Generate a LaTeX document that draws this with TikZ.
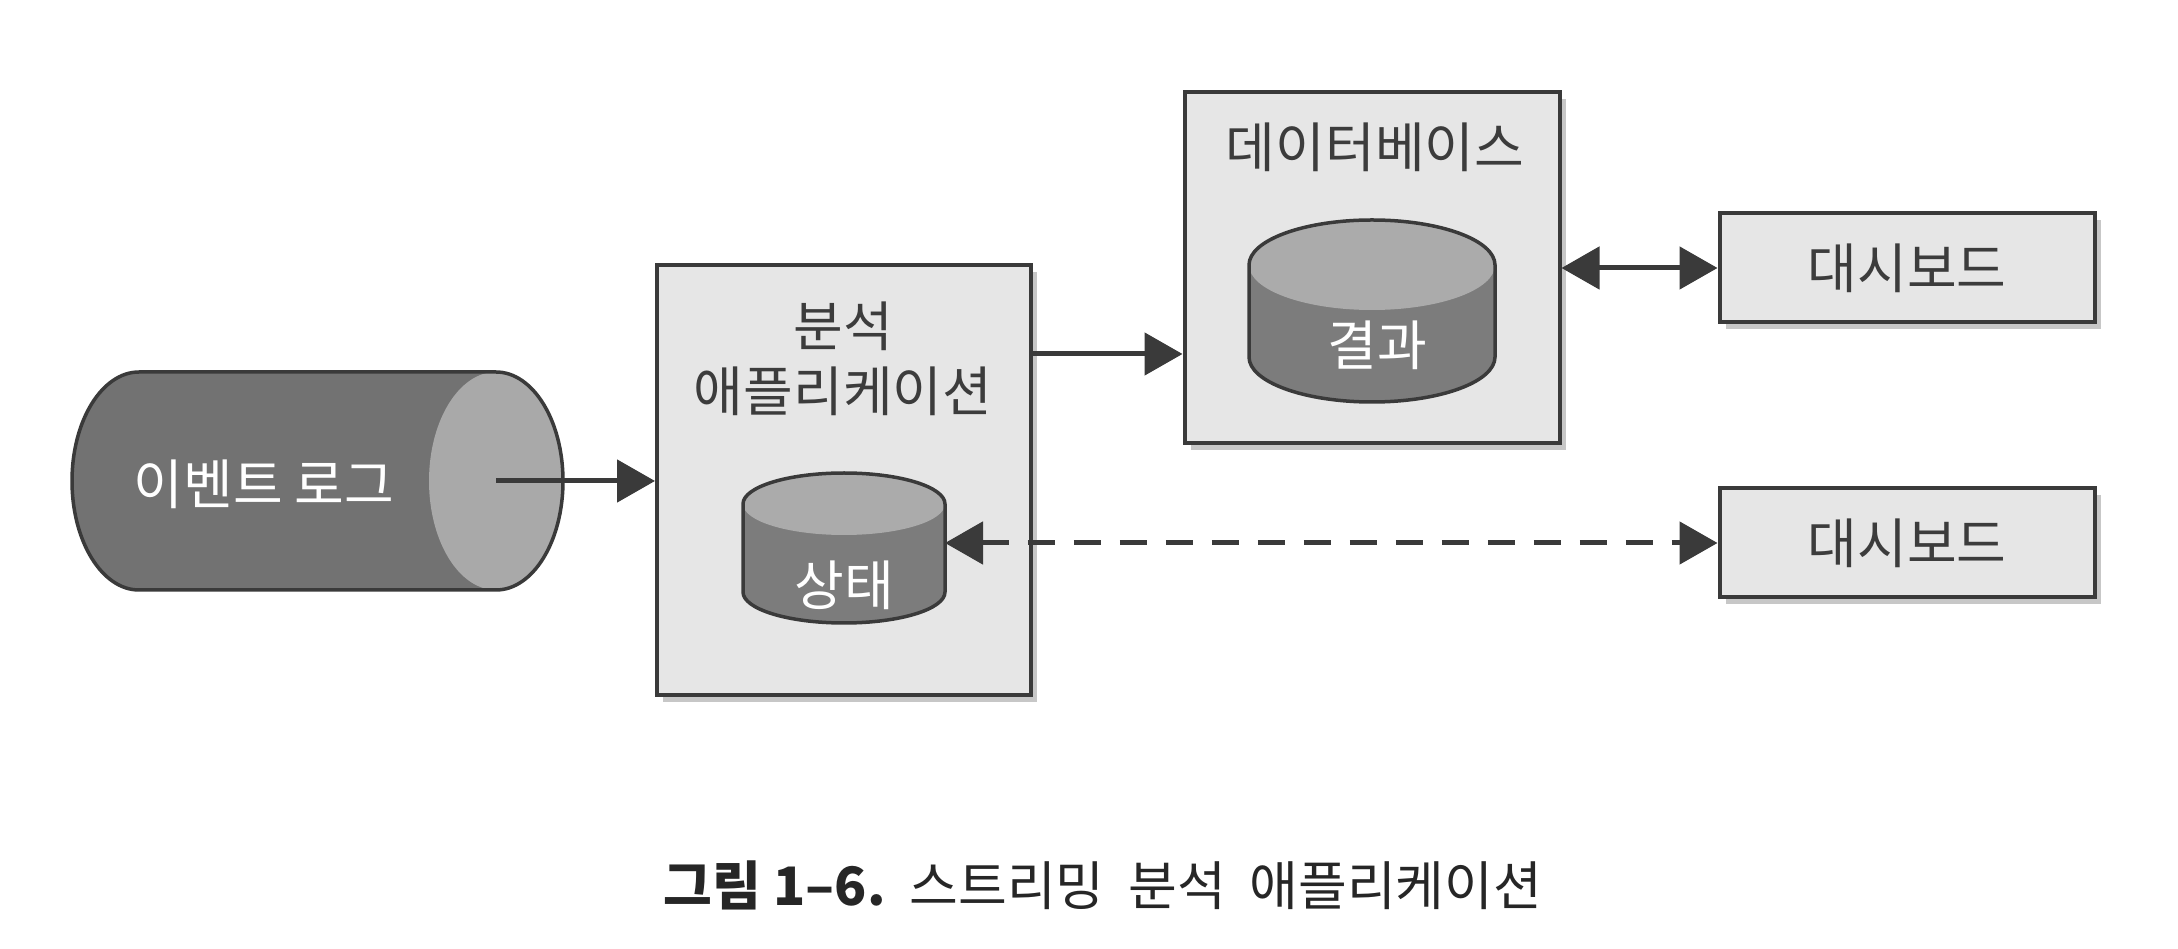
\documentclass[tikz,border=0pt]{standalone}
\usepackage{fontspec}
\setmainfont{Noto Sans CJK KR}
\usetikzlibrary{arrows.meta,shadows}
\definecolor{boxfill}{HTML}{E6E6E6}
\definecolor{edge}{HTML}{3A3A3A}
\definecolor{cylbody}{HTML}{7C7C7C}
\definecolor{cyltop}{HTML}{ABABAB}
\definecolor{logbody}{HTML}{727272}
\definecolor{logcap}{HTML}{A9A9A9}
\definecolor{txt}{HTML}{3C3C3C}
\newcommand\vcyl[5]{%
  \fill[cylbody] ({#1-#4},#2) -- ({#1-#4},#3) arc[start angle=180,end angle=360,x radius=#4pt,y radius=#5pt] -- ({#1+#4},#2) -- cycle;
  \fill[cyltop] (#1,#2) ellipse[x radius=#4pt,y radius=#5pt];
  \draw[edge,line width=3.5pt] ({#1-#4},#2) -- ({#1-#4},#3) arc[start angle=180,end angle=360,x radius=#4pt,y radius=#5pt] -- ({#1+#4},#2) arc[start angle=0,end angle=180,x radius=#4pt,y radius=#5pt] -- cycle;
}
\begin{document}
\begin{tikzpicture}[x=1pt,y=1pt,
  box/.style={draw=edge,line width=4pt,fill=boxfill,inner sep=0pt,
    drop shadow={shadow xshift=6pt,shadow yshift=-7pt,opacity=0.22,fill=black}},
  lbl/.style={text=txt,font=\fontsize{54}{64}\selectfont,inner sep=0pt},
  wlbl/.style={text=white,font=\fontsize{54}{64}\selectfont,inner sep=0pt},
  ghost/.style={inner sep=0pt,outer sep=0pt},
  arr/.style={draw=edge,line width=5pt,-{Triangle[length=38pt,width=42pt]}},
  darr/.style={draw=edge,line width=5pt,{Triangle[length=38pt,width=42pt]}-{Triangle[length=38pt,width=42pt]}},
  dasharr/.style={darr,dash pattern=on 27pt off 19pt}
]
\useasboundingbox (0,0) rectangle (2178,948);
\fill[white] (0,0) rectangle (2178,948);

% event log cylinder
\fill[logbody] (139,358) rectangle (496,576);
\fill[logbody] (139,467) ellipse[x radius=67pt,y radius=109pt];
\fill[logcap] (496,467) ellipse[x radius=67pt,y radius=109pt];
\draw[edge,line width=3.5pt] (139,576) -- (496,576) arc[start angle=90,end angle=-90,x radius=67pt,y radius=109pt] -- (139,358) arc[start angle=270,end angle=90,x radius=67pt,y radius=109pt] -- cycle;
\node[ghost,minimum width=491pt,minimum height=218pt] (log) at (317.5,467) {};
\coordinate (logcapc) at (496,467);
\node[wlbl] (loglbl) at (264,464) {이벤트 로그};

% analysis application box
\node[box,minimum width=374pt,minimum height=430pt] (app) at (844,468) {};
\node[lbl] (applbl1) at (843,622) {분석};
\node[lbl] (applbl2) at (843,557) {애플리케이션};
\vcyl{844}{444}{356}{101}{31}
\node[ghost,minimum width=202pt,minimum height=150pt] (state) at (844,400) {};
\node[wlbl] (statelbl) at (844,363) {상태};

% database box
\node[box,minimum width=375pt,minimum height=351pt] (db) at (1372,680) {};
\node[lbl] (dblbl) at (1375,801) {데이터베이스};
\vcyl{1372}{683}{591}{123}{45}
\node[ghost,minimum width=246pt,minimum height=182pt] (result) at (1372,637) {};
\node[wlbl] (resultlbl) at (1377,603) {결과};

% dashboards
\node[box,minimum width=375pt,minimum height=109pt] (dash1) at (1907,680) {};
\node[lbl] (dash1lbl) at (1907,680) {대시보드};
\node[box,minimum width=375pt,minimum height=109pt] (dash2) at (1907,405) {};
\node[lbl] (dash2lbl) at (1907,405) {대시보드};

% connectors
\draw[arr] (logcapc) -- (logcapc -| app.west);
\draw[arr] (app.east |- 0,594) -- (db.west |- 0,594);
\draw[darr] (db.east |- dash1.west) -- (dash1.west);
\draw[dasharr] (dash2.west -| state.east) -- (dash2.west);

% caption
\node[text=black!85,font=\fontsize{53}{63}\selectfont,inner sep=0pt] (caption) at (1103,63) {\textbf{그림 1–6.}\ \ 스트리밍\ \ 분석\ \ 애플리케이션};
\end{tikzpicture}
\end{document}
